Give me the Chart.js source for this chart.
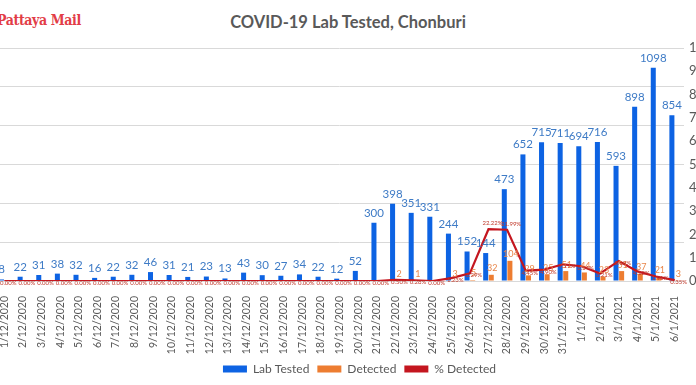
<!DOCTYPE html>
<html><head><meta charset="utf-8">
<script src="https://cdn.jsdelivr.net/npm/chart.js@4.4.0/dist/chart.umd.min.js"></script>
<style>
html,body{margin:0;padding:0;background:#fff;}
#wrap{position:relative;width:696px;height:385px;overflow:hidden;background:#fff;}
#logo{position:absolute;left:-3px;top:12px;font:bold 14px "DejaVu Serif Condensed","DejaVu Serif",serif;color:#e23d47;letter-spacing:-0.4px;white-space:nowrap;}
#title{position:absolute;left:0;width:696px;top:12px;text-align:center;font:bold 16.5px Lato,sans-serif;color:#595959;}
#c{position:absolute;left:-20px;top:0;width:744px;height:385px;}
</style></head><body>
<div id="wrap"><div id="logo">Pattaya Mail</div><div id="title">COVID-19 Lab Tested, Chonburi</div><canvas id="c" width="744" height="385"></canvas></div>
<script>
const categories = ['1/12/2020','2/12/2020','3/12/2020','4/12/2020','5/12/2020','6/12/2020','7/12/2020','8/12/2020','9/12/2020','10/12/2020','11/12/2020','12/12/2020','13/12/2020','14/12/2020','15/12/2020','16/12/2020','17/12/2020','18/12/2020','19/12/2020','20/12/2020','21/12/2020','22/12/2020','23/12/2020','24/12/2020','25/12/2020','26/12/2020','27/12/2020','28/12/2020','29/12/2020','30/12/2020','31/12/2020','1/1/2021','2/1/2021','3/1/2021','4/1/2021','5/1/2021','6/1/2021'];
const labTested = [8,22,31,38,32,16,22,32,46,31,21,23,13,43,30,27,34,22,12,52,300,398,351,331,244,152,144,473,652,715,711,694,716,593,898,1098,854];
const detected = [0,0,0,0,0,0,0,0,0,0,0,0,0,0,0,0,0,0,0,0,0,2,1,0,3,5,32,104,29,35,51,44,23,51,37,21,3];
const pctDetected = [0,0,0,0,0,0,0,0,0,0,0,0,0,0,0,0,0,0,0,0,0,0.50,0.28,0,1.23,3.29,22.22,21.99,4.45,4.90,7.17,6.34,3.21,8.60,4.12,1.91,0.35];
const leftTicks = {min:0,max:1200,step:200};
const rightTicks = {min:0,max:100,step:10};

const labelPlugin = {
  id:'labels',
  afterDatasetsDraw(chart){
    const ctx = chart.ctx;
    ctx.save();
    ctx.textAlign='center';
    const m0 = chart.getDatasetMeta(0), m1 = chart.getDatasetMeta(1), m2 = chart.getDatasetMeta(2);
    ctx.textBaseline='bottom';
    ctx.font='11.5px Lato, sans-serif';
    ctx.fillStyle='#3e7bc6';
    m0.data.forEach((el,i)=>{ ctx.fillText(String(labTested[i]), el.x, el.y-4); });
    ctx.font='9px Lato, sans-serif';
    ctx.fillStyle='#e8864a';
    m1.data.forEach((el,i)=>{ if(detected[i]>0) ctx.fillText(String(detected[i]), el.x+1, el.y-2); });
    ctx.font='6px Lato, sans-serif';
    ctx.fillStyle='#c0392b';
    ctx.textBaseline='middle';
    m2.data.forEach((el,i)=>{ ctx.fillText(pctDetected[i].toFixed(2)+'%', el.x+4, el.y+ (pctDetected[i]>15?-6:2)); });
    ctx.restore();
  }
};

new Chart(document.getElementById('c'), {
  type:'bar',
  data:{
    labels:categories,
    datasets:[
      {label:'Lab Tested', data:labTested, backgroundColor:'#0d63e3', yAxisID:'y', categoryPercentage:0.6, barPercentage:0.9, order:2},
      {label:'Detected', data:detected, backgroundColor:'#ed7d31', yAxisID:'y', categoryPercentage:0.6, barPercentage:0.9, order:2},
      {label:'% Detected', type:'line', data:pctDetected, borderColor:'#c4161f', backgroundColor:'#c4161f', borderWidth:2.2, pointRadius:0, tension:0, yAxisID:'y1', order:1}
    ]
  },
  options:{
    responsive:false, animation:false,
    layout:{padding:{left:15,top:48,right:0,bottom:0}},
    plugins:{
      tooltip:{enabled:false},
      title:{display:false},
      legend:{position:'bottom', labels:{
        boxWidth:24, boxHeight:7, padding:8, color:'#595959', font:{family:'Lato',size:12},
        generateLabels(chart){
          return chart.data.datasets.map((d,i)=>({text:d.label, fillStyle:d.backgroundColor, strokeStyle:d.backgroundColor, lineWidth:0, hidden:false, datasetIndex:i, fontColor:'#595959'}));
        }
      }}
    },
    scales:{
      x:{grid:{display:false}, border:{display:false},
        ticks:{maxRotation:90,minRotation:90,autoSkip:false,color:'#595959',font:{family:'Lato',size:10.5},padding:7},
        afterFit(s){ s.height=74; }},
      y:{position:'left', min:leftTicks.min, max:leftTicks.max,
        ticks:{display:false, stepSize:leftTicks.step},
        grid:{color:'#d9d9d9', drawTicks:false, lineWidth:1}, border:{display:false},
        afterFit(s){ s.width=0; }},
      y1:{position:'right', min:rightTicks.min, max:rightTicks.max,
        ticks:{stepSize:rightTicks.step, callback:v=>v+'%', padding:5, color:'#595959', font:{family:'Lato',size:13}},
        grid:{display:false, drawTicks:false}, border:{display:false},
        afterFit(s){ s.width=40; }}
    }
  },
  plugins:[labelPlugin]
});
</script>
</body></html>
